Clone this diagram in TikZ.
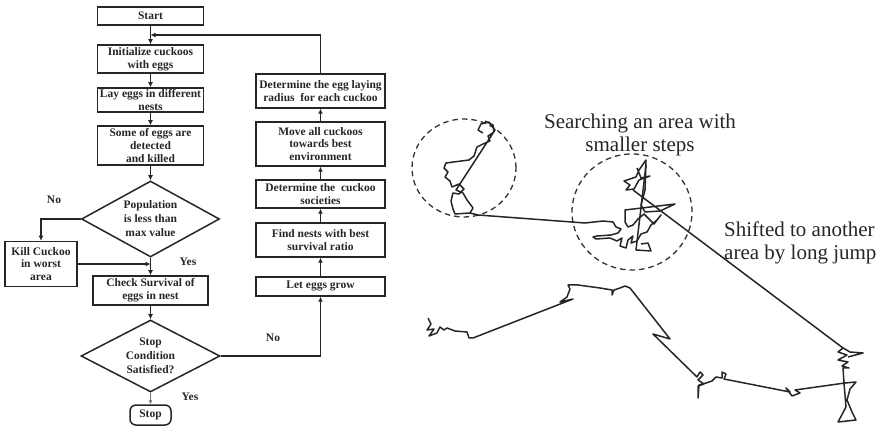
\documentclass[tikz,border=0pt]{standalone}
\usepackage{fontspec}
\setmainfont{Liberation Serif}
\usetikzlibrary{shapes.geometric,arrows.meta}
\begin{document}
\begin{tikzpicture}[x=1pt,y=-1pt,
 fc/.style={draw=black!85,line width=1.5pt,font=\fontsize{11.5}{12.8}\selectfont\bfseries,align=center,inner sep=0pt,text=black!85},
 lbox/.style={fc,minimum width=106pt},
 rbox/.style={fc,minimum width=129pt},
 dia/.style={draw=black!85,line width=1.5pt,shape=diamond,inner sep=0pt},
 dtext/.style={font=\fontsize{11.5}{14}\selectfont\bfseries,align=center,inner sep=0pt,text=black!85},
 yn/.style={font=\fontsize{11.5}{13}\selectfont\bfseries,text=black!85,inner sep=0pt},
 arr/.style={draw=black!85,line width=1.5pt,-{Latex[length=5pt,width=5pt]}},
 thinarr/.style={draw=black!55,line width=0.8pt,-{Latex[length=4pt,width=4pt]}},
 walk/.style={draw=black!85,line width=1.5pt,line join=round},
 circ/.style={draw=black!80,line width=1.3pt,dash pattern=on 5.5pt off 4pt},
 note/.style={font=\fontsize{21}{23}\selectfont,text=black!85,inner sep=0pt}
]
\useasboundingbox (0,0) rectangle (878,427);

% ---------- left column ----------
\node[lbox,minimum height=18pt] (start) at (150.5,16) {Start};
\node[lbox,minimum height=28pt] (init) at (150.5,59) {Initialize cuckoos\\with eggs};
\node[lbox,minimum height=24pt] (lay) at (150.5,100) {Lay eggs in different\\nests};
\node[lbox,minimum height=39pt] (some) at (150.5,145.5) {Some of eggs are\\detected\\and killed};
\node[dia,minimum width=138pt,minimum height=76pt] (pop) at (150.5,219) {};
\node[dtext] (popt) at (pop) {Population\\is less than\\max value};
\node[fc,minimum width=72pt,minimum height=45pt] (kill) at (41,264) {Kill Cuckoo\\in worst\\area};
\node[fc,minimum width=115pt,minimum height=29pt] (check) at (150.5,290.5) {Check Survival of\\eggs in nest};
\node[dia,minimum width=139pt,minimum height=72pt] (cond) at (150.5,356) {};
\node[dtext] (condt) at (cond) {Stop\\Condition\\Satisfied?};
\node[fc,rounded corners=6pt,minimum width=41pt,minimum height=20pt] (stop) at (150.5,415) {Stop};

% ---------- right column ----------
\node[rbox,minimum height=34pt] (radius) at (320.5,91) {Determine the egg laying\\radius\ \ for each cuckoo};
\node[rbox,minimum height=44pt] (move) at (320.5,144) {Move all cuckoos\\towards best\\environment};
\node[rbox,minimum height=28pt] (soc) at (320.5,194) {Determine the\ \ cuckoo\\societies};
\node[rbox,minimum height=34pt] (find) at (320.5,240) {Find nests with best\\survival ratio};
\node[rbox,minimum height=19pt] (grow) at (320.5,286.5) {Let eggs grow};

% ---------- connectors ----------
\draw[arr] (start) -- (init);
\draw[arr] (init) -- (lay);
\draw[arr] (lay) -- (some);
\draw[arr] (some) -- (pop);
\draw[arr] (pop.south) -- (check.north);
\draw[arr] (pop.west) -| (kill.north);
\draw[arr] (kill.east) -- (kill.east -| pop.south);
\draw[arr] (check.south) -- (cond.north);
\draw[thinarr] (cond.south) -- (stop.north);
\draw[arr] (cond.east) -| (grow.south);
\draw[arr] (grow) -- (find);
\draw[arr] (find) -- (soc);
\draw[arr] (soc) -- (move);
\draw[arr] (move) -- (radius);
\coordinate (back) at (150.5,35);
\draw[arr] (radius.north) |- (back);

\node[yn] (no1) at (54,200) {No};
\node[yn] (yes1) at (188,262) {Yes};
\node[yn] (no2) at (273,338) {No};
\node[yn] (yes2) at (190,397) {Yes};

% ---------- random walk ----------
\draw[circ] (464,168) ellipse[x radius=52pt,y radius=49pt];
\draw[circ] (632,212) ellipse[x radius=60pt,y radius=58pt];

\draw[walk] (485,121) -- (493,125) -- (494,132) -- (488,136) -- (490,141) -- (483,144) -- (477,147) -- (474,156) -- (469,160) -- (446,163) -- (444,168) -- (448,172) -- (445,177) -- (450,181) -- (452,187) -- (459,184) -- (464,189) -- (459,194) -- (453,193) -- (451,201) -- (453,209) -- (455,214) -- (470,213) -- (473,208) -- (467,200) -- (463,193) -- (456,190) -- (495,130) -- (489,122) -- (481,124) -- (478,130) -- (483,133);

\draw[walk] (470,213) -- (478,215) -- (585,223) -- (603,221) -- (613,222) -- (616,227) -- (621,229) -- (618,233) -- (611,235) -- (597,236) -- (593,237) -- (596,239) -- (610,238) -- (617,241) -- (622,238) -- (620,246) -- (626,248) -- (628,240) -- (633,236) -- (631,243) -- (637,241) -- (641,234) -- (647,232) -- (651,225) -- (657,220) -- (661,215) -- (654,224) -- (649,219) -- (644,214) -- (638,219) -- (633,225) -- (628,227) -- (625,222) -- (625,210) -- (675,204) -- (660,211) -- (645,212) -- (641,205) -- (645,190) -- (646,160) -- (639,170) -- (636,177) -- (624,181) -- (630,185) -- (626,190) -- (634,189) -- (639,180) -- (650,176) -- (641,178) -- (637,168);
\draw[walk] (646,165) -- (636,250) -- (651,251) -- (648,243) -- (641,244);
\draw[walk] (633,190) -- (843,348);

\draw[walk] (428,318) -- (431,324) -- (427,330) -- (434,329) -- (429,336) -- (437,333) -- (440,327) -- (444,330) -- (447,328) -- (455,331) -- (467,332) -- (469,338) -- (473,338) -- (573,299) -- (560,302) -- (567,297) -- (570,289) -- (568,285) -- (578,285) -- (600,288) -- (612,290) -- (612,295) -- (614,290) -- (620,288) -- (625,286) -- (630,288) -- (670,339) -- (653,334) -- (697,377) -- (700,372) -- (703,375) -- (698,380) -- (704,384) -- (698,386) -- (698,398) -- (699,385) -- (706,383) -- (712,381) -- (716,377) -- (722,378) -- (722,372) -- (726,374) -- (724,379) -- (790,392) -- (786,388) -- (792,396) -- (800,393) -- (795,390) -- (845,383) -- (856,382) -- (850,389) -- (847,400) -- (852,412) -- (856,420) -- (838,422) -- (846,407) -- (844,383) -- (843,368) -- (849,368) -- (842,366) -- (848,362) -- (838,360) -- (847,355) -- (838,352) -- (843,348) -- (850,352) -- (863,353) -- (848,357);

\node[note,anchor=north,align=center] (n1) at (640,114) {Searching an area with\\smaller steps};
\node[note,anchor=north west,align=left] (n2) at (724,222) {Shifted to another\\area by long jump};
\end{tikzpicture}
\end{document}
